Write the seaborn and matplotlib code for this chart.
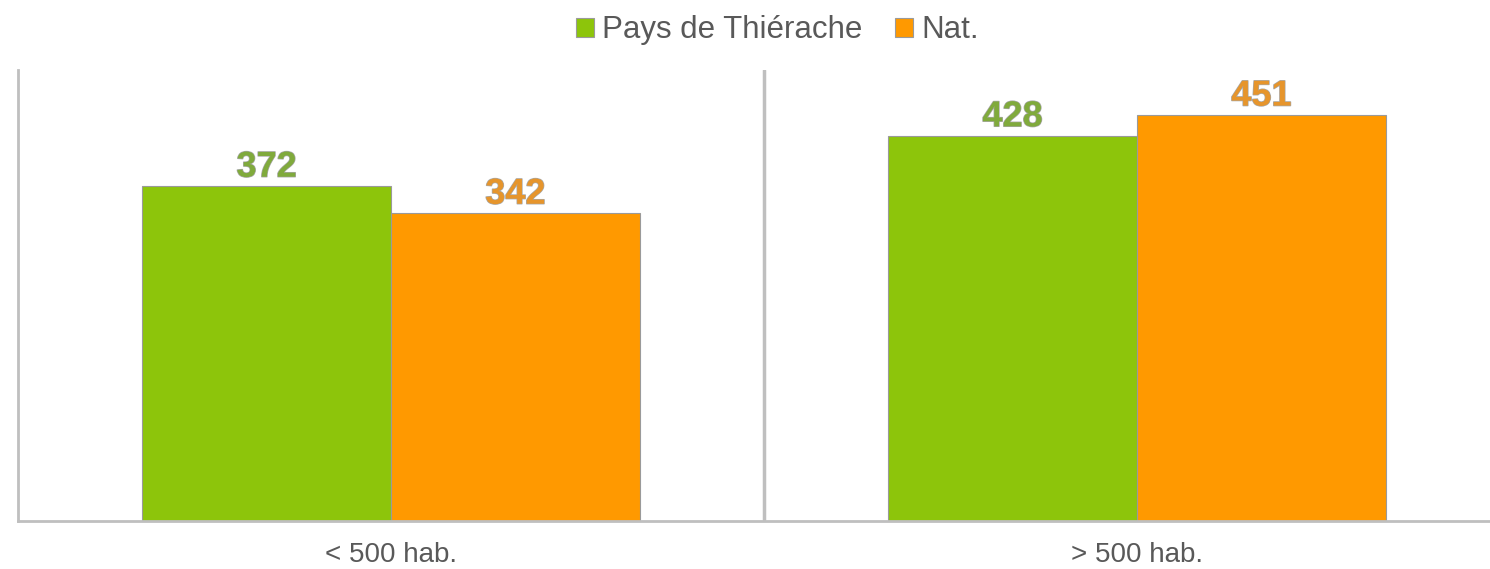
import matplotlib
matplotlib.use("Agg")
import matplotlib.pyplot as plt
import matplotlib.patheffects as pe
import seaborn as sns
import pandas as pd

categories = ["< 500 hab.", "> 500 hab."]
series = ["Pays de Thiérache", "Nat."]
thierache = [372, 428]
national = [342, 451]
colors = ["#8DC50B", "#FF9900"]
label_colors = ["#80AA3C", "#E6952C"]

df = pd.DataFrame({
    "cat": categories * 2,
    "serie": [series[0]] * len(categories) + [series[1]] * len(categories),
    "val": thierache + national,
})

sns.set_theme(style="white")
plt.rcParams['font.family'] = ['Liberation Sans', 'DejaVu Sans']

fig = plt.figure(figsize=(14.9, 5.69), dpi=100)
ax = fig.add_axes([18 / 1490, 48 / 569, 1492 / 1490, 451 / 569])
sns.barplot(data=df, x="cat", y="val", hue="serie", hue_order=series,
            palette=colors, width=0.667, edgecolor="#9a9a9a", linewidth=0.8,
            saturation=1, ax=ax)

ax.set_xlim(-0.5, 1.5)
ax.set_ylim(0, 501)
ax.set_yticks([])
ax.set_xlabel("")
ax.set_ylabel("")
ax.tick_params(axis="x", length=0, labelsize=20, labelcolor="#595959", pad=15)

for side in ["top", "right"]:
    ax.spines[side].set_visible(False)
for side in ["left", "bottom"]:
    ax.spines[side].set_color("#bfbfbf")
    ax.spines[side].set_linewidth(2.0)
ax.axvline(0.5, color="#bfbfbf", lw=2.5, zorder=0)

for i, c in enumerate(ax.containers):
    ax.bar_label(c, fontsize=26, fontweight="bold", color=label_colors[i], padding=1,
                 path_effects=[pe.withStroke(linewidth=1.0, foreground="#a8a8a8")])

sns.move_legend(ax, "center", bbox_to_anchor=(0.509, 1.088), ncol=2, frameon=False,
                title=None, fontsize=22.5, handlelength=0.58, handleheight=0.58,
                handletextpad=0.26, columnspacing=1.05, labelcolor="#595959")

fig.savefig("out.png", dpi=100)
